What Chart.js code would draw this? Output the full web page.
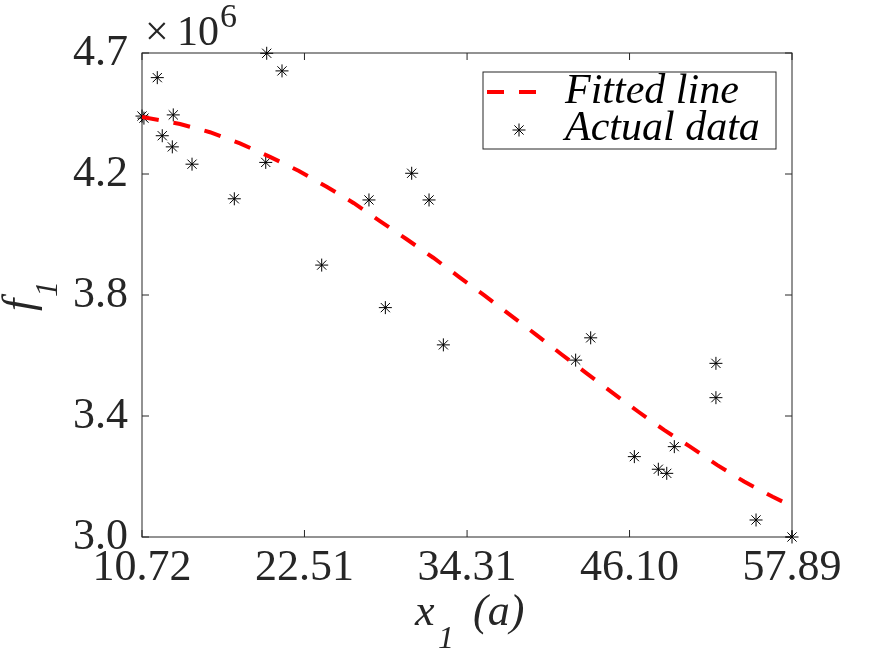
<!DOCTYPE html>
<html lang="en">
<head>
  <meta charset="UTF-8">
  <title>f1 vs x1 (a)</title>
  <script src="https://cdn.jsdelivr.net/npm/chart.js"></script>
  <style>
    body {
      margin: 0;
      background: #ffffff;
    }
    #wrap {
      width: 875px;
      height: 656px;
    }
  </style>
</head>
<body>

  <div id="wrap"><canvas id="fitChart"></canvas></div>

  <script>
    // tick labels (y values are in units of 10^6)
    const xTickLabels = ['10.72', '22.51', '34.31', '46.10', '57.89'];
    const xTickValues = [10.72, 22.51, 34.31, 46.10, 57.89];
    const yTickLabels = ['3.0', '3.4', '3.8', '4.2', '4.7'];
    const yTickValues = [3.0, 3.4125, 3.825, 4.2375, 4.65];

    // actual data points
    const actualX = [10.72, 10.86, 11.83, 12.19, 12.92, 12.99, 14.35, 17.42, 19.70, 19.77, 20.88, 23.76, 27.19, 28.38,
      30.29, 31.55, 32.59, 42.19, 43.28, 46.45, 48.19, 48.80, 49.35, 52.37, 52.37, 55.28, 57.89];
    const actualY = [4.435, 4.428, 4.566, 4.368, 4.330, 4.439, 4.271, 4.153, 4.277, 4.649, 4.589, 3.927, 4.149, 3.782,
      4.240, 4.149, 3.655, 3.603, 3.679, 3.274, 3.231, 3.217, 3.308, 3.592, 3.475, 3.058, 3.000];

    // fitted curve
    const fitX = [10.72, 13.48, 15.65, 17.83, 20.01, 22.11, 24.12, 26.10, 27.99, 29.93, 31.86, 33.72, 35.59,
      37.43, 39.29, 41.13, 42.99, 44.85, 46.74, 48.60, 50.49, 52.47, 54.41, 56.49, 57.89];
    const fitY = [4.432, 4.408, 4.380, 4.342, 4.296, 4.248, 4.194, 4.138, 4.077, 4.015, 3.952, 3.887, 3.823,
      3.757, 3.691, 3.624, 3.558, 3.492, 3.427, 3.365, 3.308, 3.245, 3.189, 3.137, 3.105];

    const axisColor = '#262626';
    const serif = "'Liberation Serif'";
    Chart.defaults.font.family = serif;

    function drawStar(ctx, x, y, r) {
      const d = Math.cos(Math.PI / 4) * r;
      ctx.beginPath();
      ctx.moveTo(x - r, y); ctx.lineTo(x + r, y);
      ctx.moveTo(x, y - r); ctx.lineTo(x, y + r);
      ctx.moveTo(x - d, y - d); ctx.lineTo(x + d, y + d);
      ctx.moveTo(x - d, y + d); ctx.lineTo(x + d, y - d);
      ctx.stroke();
    }

    // box around the axes with inward ticks on all four sides
    const framePlugin = {
      id: 'frame',
      beforeDatasetsDraw(chart) {
        const { ctx, chartArea: a, scales } = chart;
        const tl = 7;
        ctx.save();
        ctx.strokeStyle = axisColor;
        ctx.lineWidth = 1;
        ctx.strokeRect(a.left, a.top, a.right - a.left, a.bottom - a.top);
        ctx.beginPath();
        xTickValues.forEach(v => {
          const px = scales.x.getPixelForValue(v);
          ctx.moveTo(px, a.bottom); ctx.lineTo(px, a.bottom - tl);
          ctx.moveTo(px, a.top); ctx.lineTo(px, a.top + tl);
        });
        yTickValues.forEach(v => {
          const py = scales.y.getPixelForValue(v);
          ctx.moveTo(a.left, py); ctx.lineTo(a.left + tl, py);
          ctx.moveTo(a.right, py); ctx.lineTo(a.right - tl, py);
        });
        ctx.stroke();
        ctx.restore();
      }
    };

    // axis titles, exponent and boxed legend
    const labelPlugin = {
      id: 'labels',
      afterDraw(chart) {
        const { ctx, chartArea: a } = chart;
        ctx.save();
        ctx.fillStyle = axisColor;
        ctx.textAlign = 'left';
        ctx.textBaseline = 'alphabetic';

        // x10^6
        ctx.font = '42px ' + serif;
        ctx.fillText('\u00d7', a.left + 3, 45);
        ctx.fillText('10', a.left + 35, 45);
        ctx.font = '34px ' + serif;
        ctx.fillText('6', a.left + 78, 27);

        // x title
        const cx = (a.left + a.right) / 2;
        ctx.font = 'italic 44px ' + serif;
        ctx.fillText('x', cx - 52, 625);
        ctx.font = 'italic 32px ' + serif;
        ctx.fillText('1', cx - 29, 648);
        ctx.font = 'italic 44px ' + serif;
        ctx.fillText('(a)', cx + 6, 625);

        // y title
        const cy = (a.top + a.bottom) / 2;
        ctx.translate(33, cy + 16);
        ctx.rotate(-Math.PI / 2);
        ctx.font = 'italic 44px ' + serif;
        ctx.fillText('f', 0, 0);
        ctx.font = 'italic 32px ' + serif;
        ctx.fillText('1', 14, 24);
        ctx.setTransform(1, 0, 0, 1, 0, 0);
        ctx.restore();

        // legend
        const ds = chart.data.datasets;
        ctx.save();
        ctx.fillStyle = '#ffffff';
        ctx.fillRect(483, 72, 293, 77);
        ctx.strokeStyle = axisColor;
        ctx.lineWidth = 1;
        ctx.strokeRect(483, 72, 293, 77);

        ctx.strokeStyle = ds[0].borderColor;
        ctx.lineWidth = ds[0].borderWidth;
        ctx.setLineDash(ds[0].borderDash);
        ctx.beginPath();
        ctx.moveTo(487, 92);
        ctx.lineTo(536, 92);
        ctx.stroke();
        ctx.setLineDash([]);

        ctx.strokeStyle = ds[1].borderColor;
        ctx.lineWidth = 1;
        drawStar(ctx, 519, 130, 6.5);

        ctx.fillStyle = '#000000';
        ctx.font = 'italic 42px ' + serif;
        ctx.fillText(ds[0].label, 565, 103);
        ctx.fillText(ds[1].label, 565, 140);
        ctx.restore();
      }
    };

    const ctx = document.getElementById('fitChart').getContext('2d');
    new Chart(ctx, {
      type: 'scatter',
      data: {
        datasets: [{
          label: 'Fitted line',
          type: 'line',
          data: fitX.map((x, i) => ({ x: x, y: fitY[i] })),
          borderColor: '#ff0000',
          borderWidth: 4,
          borderDash: [17, 15],
          borderCapStyle: 'butt',
          pointRadius: 0,
          fill: false,
          tension: 0
        }, {
          label: 'Actual data',
          data: actualX.map((x, i) => ({ x: x, y: actualY[i] })),
          pointStyle: 'star',
          pointRadius: 6.5,
          pointBorderWidth: 1,
          borderColor: '#000000',
          backgroundColor: '#000000',
          clip: false
        }]
      },
      options: {
        responsive: true,
        maintainAspectRatio: false,
        animation: false,
        layout: {
          padding: { left: 0, right: 83, top: 53, bottom: 0 }
        },
        plugins: {
          legend: { display: false },
          tooltip: { enabled: false }
        },
        scales: {
          x: {
            type: 'linear',
            min: 10.72,
            max: 57.89,
            afterBuildTicks: scale => {
              scale.ticks = xTickValues.map(v => ({ value: v }));
            },
            afterFit: scale => {
              scale.height = 119;
            },
            ticks: {
              autoSkip: false,
              maxRotation: 0,
              padding: 5,
              color: axisColor,
              font: { size: 44 },
              callback: (value, index) => xTickLabels[index]
            },
            grid: { display: false, drawTicks: false },
            border: { display: false }
          },
          y: {
            type: 'linear',
            min: 3.0,
            max: 4.65,
            afterBuildTicks: scale => {
              scale.ticks = yTickValues.map(v => ({ value: v }));
            },
            afterFit: scale => {
              scale.width = 142;
            },
            ticks: {
              autoSkip: false,
              padding: 14,
              color: axisColor,
              font: { size: 44 },
              callback: (value, index) => yTickLabels[index]
            },
            grid: { display: false, drawTicks: false },
            border: { display: false }
          }
        }
      },
      plugins: [framePlugin, labelPlugin]
    });
  </script>

</body>
</html>
